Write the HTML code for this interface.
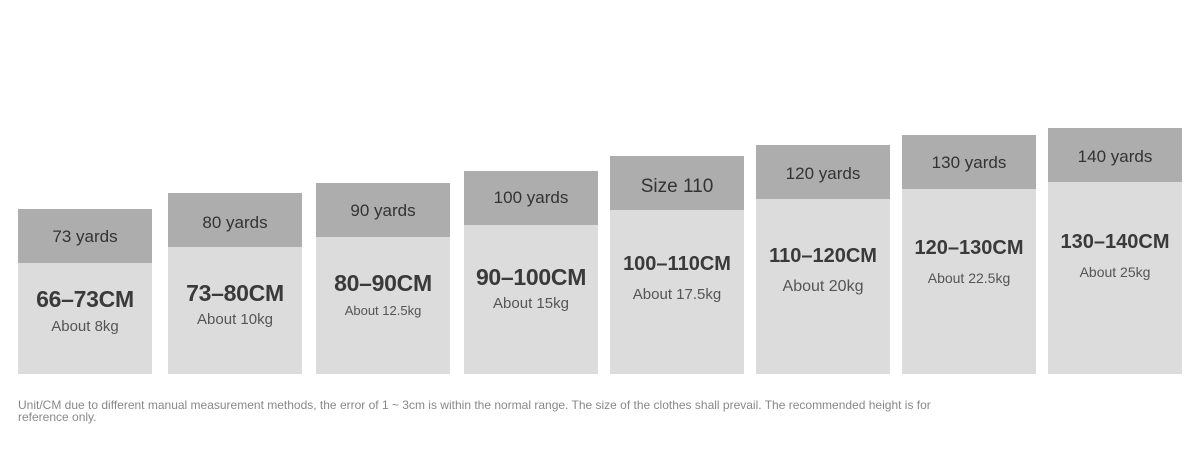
<!DOCTYPE html>
<html><head><style>
body{margin:0;width:1200px;height:476px;background:#fff;position:relative;overflow:hidden;font-family:"Liberation Sans",sans-serif;}
.c{position:absolute;width:134px;bottom:102px;background:#dcdcdc;}
.h{position:absolute;left:0;top:0;width:134px;height:54px;background:#adadad;}
.t{position:absolute;left:0;width:134px;text-align:center;color:#333;white-space:nowrap;line-height:1;}
.ht{font-size:17px;}
.cm{font-size:23px;font-weight:bold;color:#3a3a3a;letter-spacing:-0.3px;}
.ab{font-size:15px;color:#555;}
.note{position:absolute;left:18px;top:399px;font-size:12px;color:#888;line-height:12px;width:940px;}
</style></head><body>
<div class="c" style="left:18px;top:209px"><div class="h"></div><div class="t ht" style="top:19px">73 yards</div><div class="t cm" style="top:79px">66–73CM</div><div class="t ab" style="top:110px">About 8kg</div></div>
<div class="c" style="left:168px;top:193px"><div class="h"></div><div class="t ht" style="top:21px">80 yards</div><div class="t cm" style="top:89px">73–80CM</div><div class="t ab" style="top:119px">About 10kg</div></div>
<div class="c" style="left:316px;top:183px"><div class="h"></div><div class="t ht" style="top:19px">90 yards</div><div class="t cm" style="top:89px">80–90CM</div><div class="t ab" style="top:121px;font-size:13px">About 12.5kg</div></div>
<div class="c" style="left:464px;top:171px"><div class="h"></div><div class="t ht" style="top:18px">100 yards</div><div class="t cm" style="top:95px">90–100CM</div><div class="t ab" style="top:125px">About 15kg</div></div>
<div class="c" style="left:610px;top:156px"><div class="h"></div><div class="t ht" style="top:21px;font-size:19px">Size 110</div><div class="t cm" style="top:98px;font-size:20px;letter-spacing:0">100–110CM</div><div class="t ab" style="top:131px">About 17.5kg</div></div>
<div class="c" style="left:756px;top:145px"><div class="h"></div><div class="t ht" style="top:20px">120 yards</div><div class="t cm" style="top:101px;font-size:20px;letter-spacing:0">110–120CM</div><div class="t ab" style="top:134px;font-size:16px">About 20kg</div></div>
<div class="c" style="left:902px;top:135px"><div class="h"></div><div class="t ht" style="top:19px">130 yards</div><div class="t cm" style="top:103px;font-size:20px;letter-spacing:0">120–130CM</div><div class="t ab" style="top:136px;font-size:14px">About 22.5kg</div></div>
<div class="c" style="left:1048px;top:128px"><div class="h"></div><div class="t ht" style="top:20px">140 yards</div><div class="t cm" style="top:104px;font-size:20px;letter-spacing:0">130–140CM</div><div class="t ab" style="top:137px;font-size:14px">About 25kg</div></div>
<div class="note">Unit/CM due to different manual measurement methods, the error of 1 ~ 3cm is within the normal range. The size of the clothes shall prevail. The recommended height is for reference only.</div>
</body></html>
